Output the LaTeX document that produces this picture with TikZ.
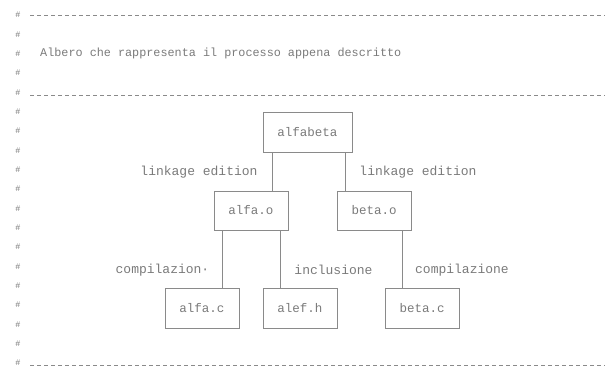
\documentclass[tikz,border=0pt]{standalone}
\usepackage{fontspec}
\setmonofont{Liberation Mono}
\definecolor{inkgray}{HTML}{7A7A7A}
\definecolor{linegray}{HTML}{8A8A8A}
\begin{document}
\begin{tikzpicture}[x=1pt,y=-1pt,
  filebox/.style={draw=linegray,line width=0.8pt,rectangle,inner sep=0pt,
    minimum width=74pt,minimum height=39pt,font=\ttfamily\fontsize{12.5}{14}\selectfont,text=inkgray},
  edgelabel/.style={font=\ttfamily\fontsize{13}{15}\selectfont,text=inkgray,inner sep=0pt},
  hashmark/.style={font=\ttfamily\fontsize{8.5}{9}\selectfont,text=inkgray,inner sep=0pt},
  rule/.style={draw=linegray,line width=1pt,dash pattern=on 3.5pt off 3.5pt},
  link/.style={draw=linegray,line width=0.8pt}]
\useasboundingbox (0,0) rectangle (605,370);
% comment marks
\foreach \i in {0,...,18}{
  \node[hashmark] (h\i) at (18,{15+19.33*\i}) {\#};
}
\coordinate (r0a) at (30,15);  \coordinate (r0b) at (605,15);
\coordinate (r1a) at (30,95);  \coordinate (r1b) at (605,95);
\coordinate (r2a) at (30,365); \coordinate (r2b) at (605,365);
\draw[rule] (r0a) -- (r0b);
\draw[rule] (r1a) -- (r1b);
\draw[rule] (r2a) -- (r2b);
\node[anchor=west,font=\ttfamily\fontsize{11.8}{14}\selectfont,text=inkgray,inner sep=0pt] (title) at (40,53)
  {Albero che rappresenta il processo appena descritto};
% boxes
\node[filebox,minimum width=89pt,minimum height=40pt] (alfabeta) at (307.5,132) {alfabeta};
\node[filebox] (alfao) at (251,210.5) {alfa.o};
\node[filebox] (betao) at (374,210.5) {beta.o};
\node[filebox,minimum height=40pt] (alfac) at (202,308) {alfa.c};
\node[filebox,minimum height=40pt] (alefh) at (300,308) {alef.h};
\node[filebox,minimum height=40pt] (betac) at (422,308) {beta.c};
% connectors
\draw[link] ([xshift=-35.5pt]alfabeta.south) -- ([xshift=-35.5pt]alfabeta.south |- alfao.north);
\draw[link] ([xshift=37.5pt]alfabeta.south) -- ([xshift=37.5pt]alfabeta.south |- betao.north);
\draw[link] ([xshift=-29pt]alfao.south) -- ([xshift=-29pt]alfao.south |- alfac.north);
\draw[link] ([xshift=29pt]alfao.south) -- ([xshift=29pt]alfao.south |- alefh.north);
\draw[link] ([xshift=28pt]betao.south) -- ([xshift=28pt]betao.south |- betac.north);
% labels
\node[edgelabel] (l1) at (199,172) {linkage edition};
\node[edgelabel] (l2) at (418,172) {linkage edition};
\node[edgelabel] (l3) at (162.5,270) {compilazion·};
\node[edgelabel] (l4) at (333.5,270) {inclusione};
\node[edgelabel] (l5) at (462,270) {compilazione};
\end{tikzpicture}
\end{document}
